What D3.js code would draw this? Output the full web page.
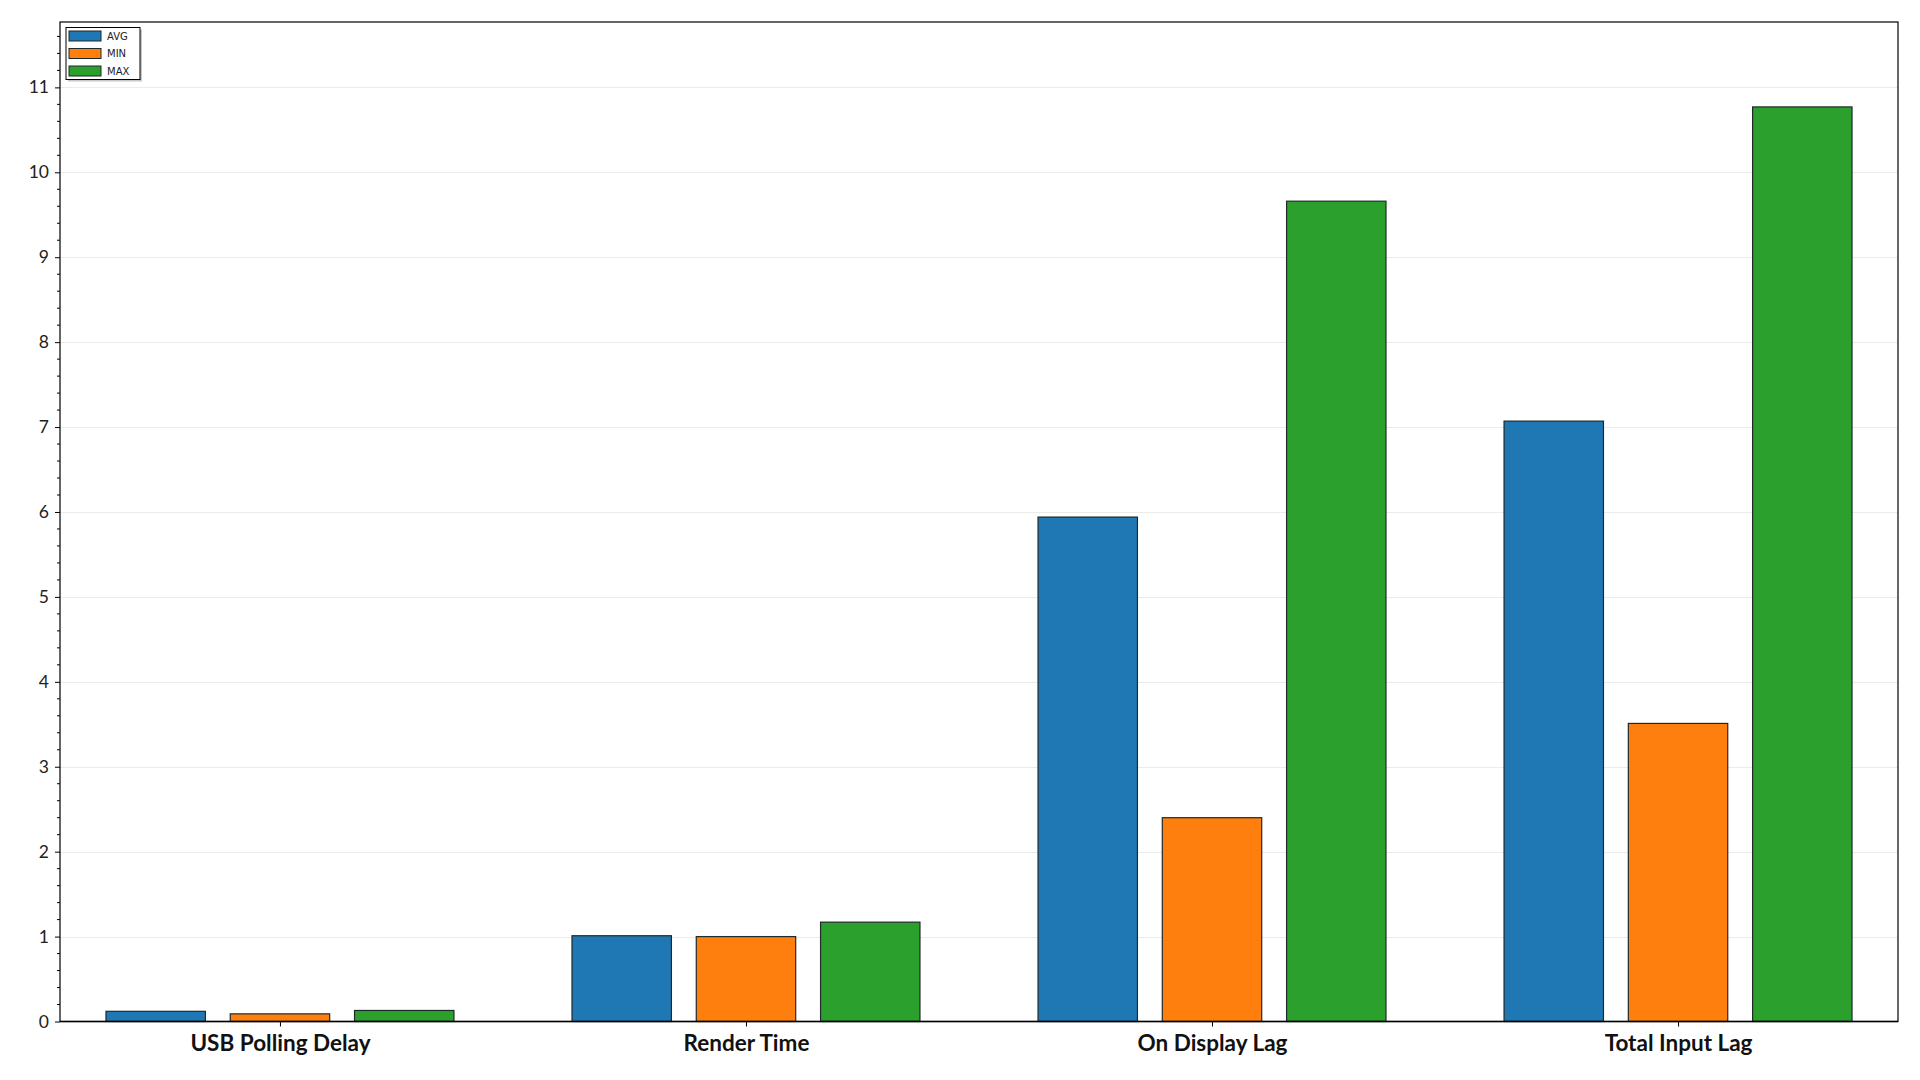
<!DOCTYPE html>
<html>
<head>
<meta charset="utf-8">
<script src="https://cdn.jsdelivr.net/npm/d3@7"></script>
<style>
html,body{margin:0;padding:0;background:#fff;}
svg{display:block;}
</style>
</head>
<body>
<svg id="chart" width="1920" height="1080"></svg>
<script>
const categories = ["USB Polling Delay", "Render Time", "On Display Lag", "Total Input Lag"];
const seriesNames = ["AVG", "MIN", "MAX"];
const avgValues = [0.12, 1.01, 5.94, 7.07];
const minValues = [0.09, 1.00, 2.40, 3.51];
const maxValues = [0.13, 1.17, 9.66, 10.77];
const yTickValues = [0,1,2,3,4,5,6,7,8,9,10,11];
const colors = ["#1f77b4", "#ff7f0e", "#2ca02c"];

const seriesValues = [avgValues, minValues, maxValues];
const data = categories.map((c, i) => ({cat: c, vals: seriesNames.map((s, j) => ({s, v: seriesValues[j][i], j}))}));

const svg = d3.select("#chart");
const L = 60, R = 1898, T = 22, B = 1021.5;

const yMax = d3.max(maxValues) + 1;
const y = d3.scaleLinear().domain([0, yMax]).range([B, T]);
const x = d3.scalePoint().domain(categories).range([L, R]).padding(0.472);
const step = x.step();
const xs = d3.scaleBand().domain(seriesNames).range([-step*0.4, step*0.4]).paddingInner(0.2).paddingOuter(0.1);

// gridlines
svg.append("g").selectAll("line").data(yTickValues.filter(d => d > 0)).join("line")
  .attr("x1", L).attr("x2", R)
  .attr("y1", d => Math.round(y(d)) + 0.5).attr("y2", d => Math.round(y(d)) + 0.5)
  .attr("stroke", "#ebebeb").attr("stroke-width", 1);

// bars
const g = svg.append("g").selectAll("g").data(data).join("g")
  .attr("transform", d => `translate(${x(d.cat)},0)`);
g.selectAll("rect").data(d => d.vals).join("rect")
  .attr("x", d => xs(d.s))
  .attr("width", xs.bandwidth())
  .attr("y", d => y(d.v))
  .attr("height", d => B - y(d.v))
  .attr("fill", d => colors[d.j])
  .attr("stroke", "#1e2a2a").attr("stroke-width", 1.2);

// y axis
const yAxis = d3.axisLeft(y).tickValues(yTickValues).tickSize(5).tickPadding(6).tickFormat(d3.format("d"));
const yG = svg.append("g").attr("transform", `translate(${L},0)`).call(yAxis);
yG.select(".domain").remove();
yG.selectAll("text").attr("font-family", "Lato, 'Open Sans', sans-serif").attr("font-size", 17.5).attr("fill", "#222");
yG.selectAll("line").attr("stroke", "#000");
// minor ticks
const minor = d3.range(0, yMax, 0.2).filter(v => Math.abs(v - Math.round(v)) > 1e-6);
svg.append("g").selectAll("line").data(minor).join("line")
  .attr("x1", L - 3).attr("x2", L)
  .attr("y1", d => y(d)).attr("y2", d => y(d))
  .attr("stroke", "#000").attr("stroke-width", 1);

// x axis
const xAxis = d3.axisBottom(x).tickSize(5).tickPadding(9);
const xG = svg.append("g").attr("transform", `translate(0,${B})`).call(xAxis);
xG.select(".domain").remove();
xG.selectAll("line").attr("stroke", "#000");
xG.selectAll("text").attr("font-family", "Lato, 'Open Sans', sans-serif").attr("font-size", 22.5)
  .attr("font-weight", "bold").attr("fill", "#111");

// frame
svg.append("rect").attr("x", L).attr("y", T).attr("width", R - L).attr("height", B - T)
  .attr("fill", "none").attr("stroke", "#000").attr("stroke-width", 1.2);
svg.append("line").attr("x1", L).attr("x2", R).attr("y1", B).attr("y2", B)
  .attr("stroke", "#000").attr("stroke-width", 1.6);

// legend
const lg = svg.append("g").attr("transform", "translate(66,27.5)");
lg.append("rect").attr("x", 2).attr("y", 2).attr("width", 74).attr("height", 52).attr("fill", "#c8c8c8");
lg.append("rect").attr("x", 0).attr("y", 0).attr("width", 74).attr("height", 52)
  .attr("fill", "#fff").attr("stroke", "#000").attr("stroke-width", 1);
const li = lg.selectAll("g.item").data(seriesNames).join("g").attr("class", "item")
  .attr("transform", (d, i) => `translate(3,${3.5 + i * 17.5})`);
li.append("rect").attr("width", 32).attr("height", 10)
  .attr("fill", (d, i) => colors[i]).attr("stroke", "#1e2a2a").attr("stroke-width", 1);
li.append("text").attr("x", 38).attr("y", 5).attr("dy", "0.35em")
  .attr("font-family", "'DejaVu Sans', sans-serif").attr("font-size", 10).attr("fill", "#222")
  .text(d => d);
</script>
</body>
</html>
